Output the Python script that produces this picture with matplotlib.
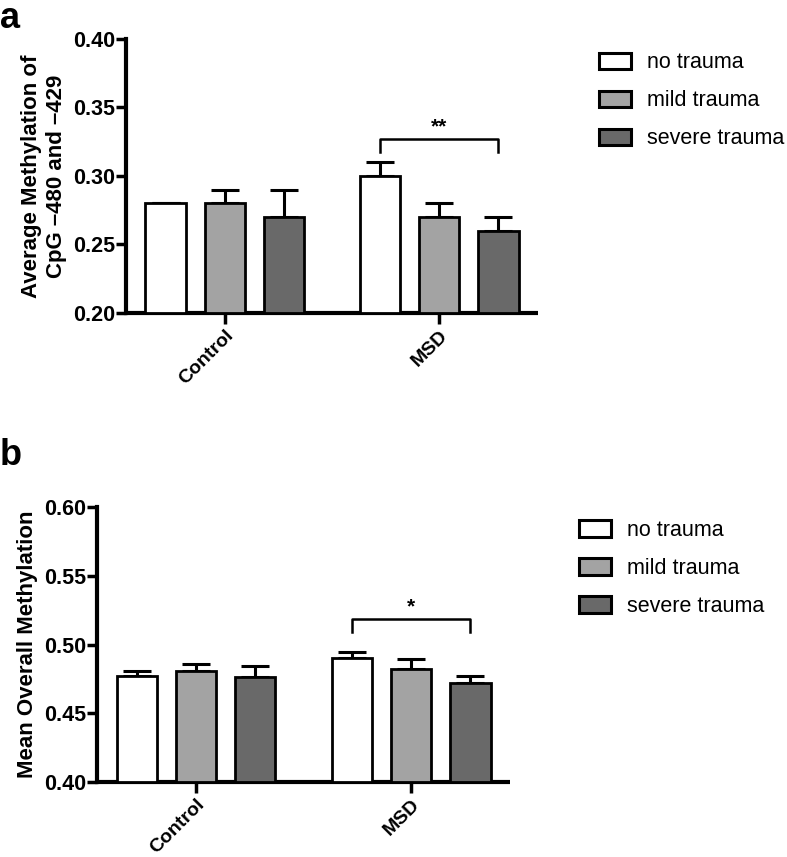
import numpy as np
import matplotlib
matplotlib.use("Agg")
import matplotlib.pyplot as plt
from matplotlib.patches import Patch

plt.rcParams['font.family'] = ['Liberation Sans', 'DejaVu Sans']

groups = ["Control", "MSD"]
series = ["no trauma", "mild trauma", "severe trauma"]
colors = ["#ffffff", "#a3a3a3", "#696969"]

# Panel a
a_means = {"no trauma": [0.280, 0.300],
           "mild trauma": [0.280, 0.270],
           "severe trauma": [0.270, 0.260]}
a_err = {"no trauma": [0.000, 0.010],
         "mild trauma": [0.010, 0.010],
         "severe trauma": [0.020, 0.010]}
a_ylabel = "Average Methylation of\nCpG \u2013480 and \u2013429"
a_ylim = (0.20, 0.40)
a_ticks = [0.20, 0.25, 0.30, 0.35, 0.40]
a_sig = "**"
a_bracket = (0.327, 0.3175)

# Panel b
b_means = {"no trauma": [0.477, 0.490],
           "mild trauma": [0.481, 0.4825],
           "severe trauma": [0.4767, 0.472]}
b_err = {"no trauma": [0.0037, 0.0048],
         "mild trauma": [0.0046, 0.0073],
         "severe trauma": [0.0078, 0.0052]}
b_ylabel = "Mean Overall Methylation"
b_ylim = (0.40, 0.60)
b_ticks = [0.40, 0.45, 0.50, 0.55, 0.60]
b_sig = "*"
b_bracket = (0.5185, 0.5093)

fig = plt.figure(figsize=(7.87, 8.57), dpi=100)

group_x = np.array([0.0, 3.64])
offsets = np.array([-1.0, 0.0, 1.0])
width = 0.68

def draw(ax, means, errs, ylabel, ylim, ticks, sig, bracket, legend_pos):
    for i, s in enumerate(series):
        x = group_x + offsets[i]
        m = np.array(means[s])
        e = np.array(errs[s])
        ax.errorbar(x, m, yerr=[np.zeros_like(e), e], fmt='none', ecolor='black',
                    elinewidth=2.2, capsize=10, capthick=2.2, zorder=2)
        ax.bar(x, m - ylim[0], bottom=ylim[0], width=width, color=colors[i],
               edgecolor='black', linewidth=2.0, zorder=3, label=s)
    ax.set_ylim(*ylim)
    ax.set_xlim(-1.67, 5.31)
    ax.set_yticks(ticks)
    ax.set_yticklabels([f"{t:.2f}" for t in ticks], fontsize=15.5, fontweight='bold')
    ax.set_xticks(group_x)
    ax.set_xticklabels(groups, rotation=45, ha='right', rotation_mode='anchor',
                       fontsize=14, fontweight='bold')
    ax.tick_params(axis='y', length=7, width=2.5, pad=1)
    ax.tick_params(axis='x', length=8, width=2.5, pad=2)
    for sp in ['top', 'right']:
        ax.spines[sp].set_visible(False)
    for sp in ['left', 'bottom']:
        ax.spines[sp].set_linewidth(3)
    ax.spines['bottom'].set_capstyle('butt')
    ax.set_ylabel(ylabel, fontsize=16, fontweight='bold', labelpad=4,
                  linespacing=1.25)
    # significance bracket
    x1 = group_x[1] + offsets[0]
    x2 = group_x[1] + offsets[2]
    top, drop = bracket
    ax.plot([x1, x1, x2, x2], [drop, top, top, drop], color='black', lw=1.8,
            clip_on=False, zorder=4)
    ax.text((x1 + x2) / 2, top + 0.002, sig, ha='center', va='bottom',
            fontsize=15, fontweight='bold')
    handles = [Patch(facecolor=c, edgecolor='black', linewidth=2.2) for c in colors]
    fig.legend(handles, series, loc='upper left', bbox_to_anchor=legend_pos,
               frameon=False, fontsize=15.5, handlelength=1.5, handleheight=0.8,
               handletextpad=0.75, labelspacing=0.79, borderaxespad=0,
               borderpad=0)

ax_a = fig.add_axes([0.1601, 0.6348, 0.5235, 0.3197])
draw(ax_a, a_means, a_err, a_ylabel, a_ylim, a_ticks, a_sig, a_bracket,
     (0.761, 0.939))
ax_b = fig.add_axes([0.1233, 0.0875, 0.5248, 0.3209])
draw(ax_b, b_means, b_err, b_ylabel, b_ylim, b_ticks, b_sig, b_bracket,
     (0.7357, 0.3932))

fig.text(0.0, 0.999, "a", fontsize=26, fontweight='bold', va='top', ha='left')
fig.text(0.0, 0.489, "b", fontsize=26, fontweight='bold', va='top', ha='left')

fig.savefig("out.png", dpi=100)
